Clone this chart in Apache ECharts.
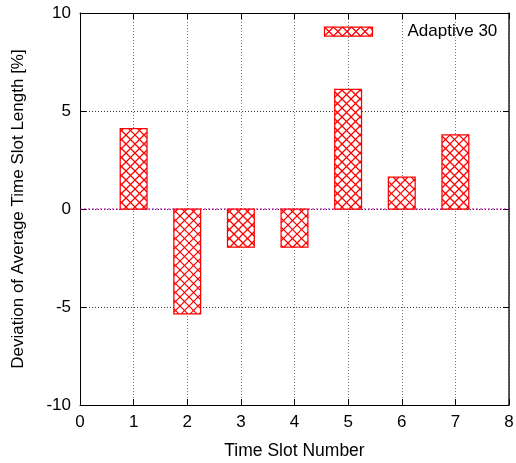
<!DOCTYPE html>
<html><head><meta charset="utf-8">
<script src="https://cdn.jsdelivr.net/npm/echarts@6/dist/echarts.min.js"></script>
<style>html,body{margin:0;padding:0;background:#fff}#c{width:516px;height:463px}</style>
</head><body><div id="c"></div>
<script>
const slots = [1, 2, 3, 4, 5, 6, 7];
const deviation = [4.1, -5.35, -1.95, -1.95, 6.1, 1.62, 3.78];
const seriesName = 'Adaptive 30';
const xTicks = [0, 1, 2, 3, 4, 5, 6, 7, 8];
const yTicks = [-10, -5, 0, 5, 10];

const RED = '#ff0000';
const P = 9;
function hatch(x0, y0, x1, y1) {
  const out = [];
  const ln = (ax, ay, bx, by) => out.push({type: 'line', shape: {x1: ax, y1: ay, x2: bx, y2: by},
    style: {stroke: RED, lineWidth: 1.25}, silent: true});
  for (let c = Math.floor((x0 - y1) / P) * P; c <= x1 - y0; c += P) {
    const a = Math.max(x0, y0 + c), b = Math.min(x1, y1 + c);
    if (b > a) ln(a, a - c, b, b - c);
  }
  for (let c = Math.floor((x0 + y0) / P) * P; c <= x1 + y1; c += P) {
    const a = Math.max(x0, c - y1), b = Math.min(x1, c - y0);
    if (b > a) ln(a, c - a, b, c - b);
  }
  return out;
}
function hatchedBox(x0, y0, w, h) {
  return [
    {type: 'rect', shape: {x: x0, y: y0, width: w, height: h}, style: {fill: '#fff'}},
    ...hatch(x0, y0, x0 + w, y0 + h),
    {type: 'rect', shape: {x: x0, y: y0, width: w, height: h}, style: {fill: null, stroke: RED, lineWidth: 1.25}}
  ];
}

const font = 'Liberation Sans, Arial, sans-serif';
const chart = echarts.init(document.getElementById('c'));
const tick = {show: true, inside: true, length: 6, lineStyle: {color: '#000'}};
chart.setOption({
  animation: false,
  textStyle: {fontFamily: font, color: '#000'},
  grid: {left: 80, right: 7, top: 13, bottom: 58, outerBoundsMode: 'none', containLabel: false},
  graphic: [{
    type: 'group', left: 322, top: 23, z: 100,
    children: [
      ...hatchedBox(0, 0, 48, 9),
      {type: 'text', x: 83, y: 4.5, style: {text: seriesName, fontFamily: font, fontSize: 17,
        fill: '#000', verticalAlign: 'middle', align: 'left'}}
    ]
  }],
  xAxis: [{
    type: 'value', min: xTicks[0], max: xTicks[xTicks.length - 1], interval: 1,
    name: 'Time Slot Number', nameLocation: 'middle', nameGap: 37,
    nameTextStyle: {fontFamily: font, fontSize: 17.5, color: '#000'},
    axisLine: {show: true, onZero: false, lineStyle: {color: '#000'}},
    axisTick: tick,
    axisLabel: {fontFamily: font, fontSize: 17, color: '#000', margin: 9},
    splitLine: {show: true, lineStyle: {color: '#777', type: [1, 2], width: 1}}
  }, {
    type: 'value', position: 'top', min: 0, max: 8, interval: 1,
    axisLine: {show: true, onZero: false, lineStyle: {color: '#000'}},
    axisTick: tick, axisLabel: {show: false}, splitLine: {show: false}
  }],
  yAxis: [{
    type: 'value', min: yTicks[0], max: yTicks[yTicks.length - 1], interval: 5,
    name: 'Deviation of Average Time Slot Length [%]', nameLocation: 'middle', nameGap: 53,
    nameTextStyle: {fontFamily: font, fontSize: 17, color: '#000'},
    axisLine: {show: true, onZero: false, lineStyle: {color: '#000'}},
    axisTick: tick,
    axisLabel: {fontFamily: font, fontSize: 17, color: '#000', margin: 9},
    splitLine: {show: true, lineStyle: {color: '#333', type: [1, 2], width: 1}}
  }, {
    type: 'value', position: 'right', min: -10, max: 10, interval: 5,
    axisLine: {show: true, onZero: false, lineStyle: {color: '#222', width: 1.5}},
    axisTick: tick, axisLabel: {show: false}, splitLine: {show: false}
  }],
  series: [{
    name: 'zero', type: 'line', silent: true, symbol: 'none', z: 1,
    data: [[xTicks[0], 0], [xTicks[xTicks.length - 1], 0]],
    lineStyle: {color: '#c000c0', type: [2, 2], width: 1}
  }, {
    name: seriesName, type: 'custom', z: 2,
    data: slots.map((s, i) => [s, deviation[i]]),
    encode: {x: 0, y: 1},
    renderItem: function (params, api) {
      const x = api.value(0), v = api.value(1);
      const p0 = api.coord([x, 0]), p1 = api.coord([x, v]);
      const w = api.size([0.5, 0])[0];
      const top = Math.min(p0[1], p1[1]), h = Math.abs(p1[1] - p0[1]);
      return {type: 'group', children: hatchedBox(p0[0] - w / 2, top, w, h)};
    }
  }]
});
</script></body></html>
